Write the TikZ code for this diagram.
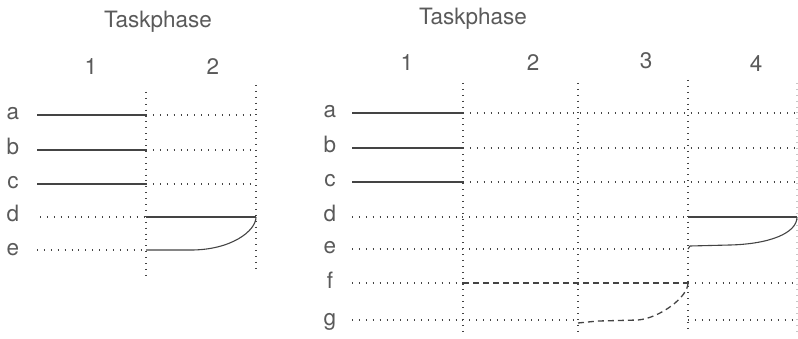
\documentclass[tikz,border=0pt]{standalone}
\usepackage{fontspec}
\setmainfont{TeX Gyre Heros}
\definecolor{ink}{HTML}{444444}
\definecolor{txt}{HTML}{5A5A5A}
\begin{document}
\begin{tikzpicture}[x=1pt,y=-1pt,
  lbl/.style={text=txt,font=\fontsize{22.5}{26}\selectfont,inner sep=0pt,anchor=center},
  solidline/.style={draw=ink,line width=1.1pt},
  dotline/.style={draw=ink,line width=1.1pt,dash pattern=on 0.9pt off 6pt},
  dashline/.style={draw=ink,line width=1.3pt,dash pattern=on 6pt off 4pt},
  vline/.style={draw=ink,line width=1.1pt,dash pattern=on 0.9pt off 5pt}]
\useasboundingbox (0,0) rectangle (798,339);
% ---------- left diagram ----------
\node[lbl] (tl) at (158,22) {Taskphase};
\node[lbl] (l1) at (91,67) {1};
\node[lbl] (l2) at (213,67) {2};
\foreach \n/\y in {a/115,b/150,c/184,d/217,e/250}{
  \node[lbl,anchor=base] (L\n) at (13,\y+5) {\n};
  \coordinate (L\n0) at (37,\y);
  \coordinate (L\n1) at (146,\y);
  \coordinate (L\n2) at (256,\y);
}
\coordinate (LV1t) at (146,92); \coordinate (LV1b) at (146,275);
\coordinate (LV2t) at (256,85); \coordinate (LV2b) at (256,268);
\draw[vline] (LV1t) -- (LV1b);
\draw[vline] (LV2t) -- (LV2b);
\foreach \n in {a,b,c}{
  \draw[solidline] (L\n0) -- (L\n1);
  \draw[dotline] (L\n1) -- (L\n2);
}
\draw[dotline] ([xshift=3pt]Ld0) -- (Ld1);
\draw[dotline] (Le0) -- (Le1);
\draw[solidline] (Ld1) -- (Ld2);
\draw[solidline] (Le1) -- ++(45,0) .. controls ++(40,0) and ([yshift=-14pt]Ld2) .. (Ld2);
% ---------- right diagram ----------
\node[lbl] (tr) at (473,19) {Taskphase};
\node[lbl] (r1) at (407,63) {1};
\node[lbl] (r2) at (533,63) {2};
\node[lbl] (r3) at (646,61) {3};
\node[lbl] (r4) at (756,64) {4};
\foreach \n/\y in {a/113,b/148,c/182,d/217,e/249,f/283,g/320}{
  \node[lbl,anchor=base] (R\n) at (330,\y+5) {\n};
  \coordinate (R\n0) at (352,\y);
  \coordinate (R\n1) at (463,\y);
  \coordinate (R\n2) at (578,\y);
  \coordinate (R\n3) at (688,\y);
  \coordinate (R\n4) at (798,\y);
}
\coordinate (RV1t) at (463,83); \coordinate (RV1b) at (463,333);
\coordinate (RV2t) at (578,83); \coordinate (RV2b) at (578,335);
\coordinate (RV3t) at (688,80); \coordinate (RV3b) at (688,333);
\coordinate (RV4t) at (797,83); \coordinate (RV4b) at (797,333);
\draw[vline] (RV1t) -- (RV1b);
\draw[vline] (RV2t) -- (RV2b);
\draw[vline] (RV3t) -- (RV3b);
\draw[vline,draw=ink!30] (RV4t) -- (RV4b);
\foreach \n in {a,b,c}{
  \draw[solidline] (R\n0) -- (R\n1);
  \draw[dotline] (R\n1) -- (R\n4);
}
\draw[dotline] (Rd0) -- (Rd3);
\draw[dotline] (Re0) -- (Re3);
\draw[solidline] (Rd3) -- ([xshift=-1pt]Rd4);
\draw[solidline] (Re3) -- ++(2,-3) -- ++(40,-1) .. controls ++(40,-1) and ([xshift=-1pt,yshift=-16pt]Rd4) .. ([xshift=-1pt]Rd4);
\draw[dotline] (Rf0) -- (Rf1);
\draw[dashline] (Rf1) -- (Rf3);
\draw[dotline] (Rf3) -- (Rf4);
\draw[dotline] (Rg0) -- (Rg2);
\draw[dashline] ([yshift=-3pt]Rg2) -- ++(20,-2) -- ++(40,-1) .. controls ++(22,-2) and ([yshift=-14pt]Rf3) .. (Rf3);
\draw[dotline] (Rg3) -- (Rg4);
\end{tikzpicture}
\end{document}
